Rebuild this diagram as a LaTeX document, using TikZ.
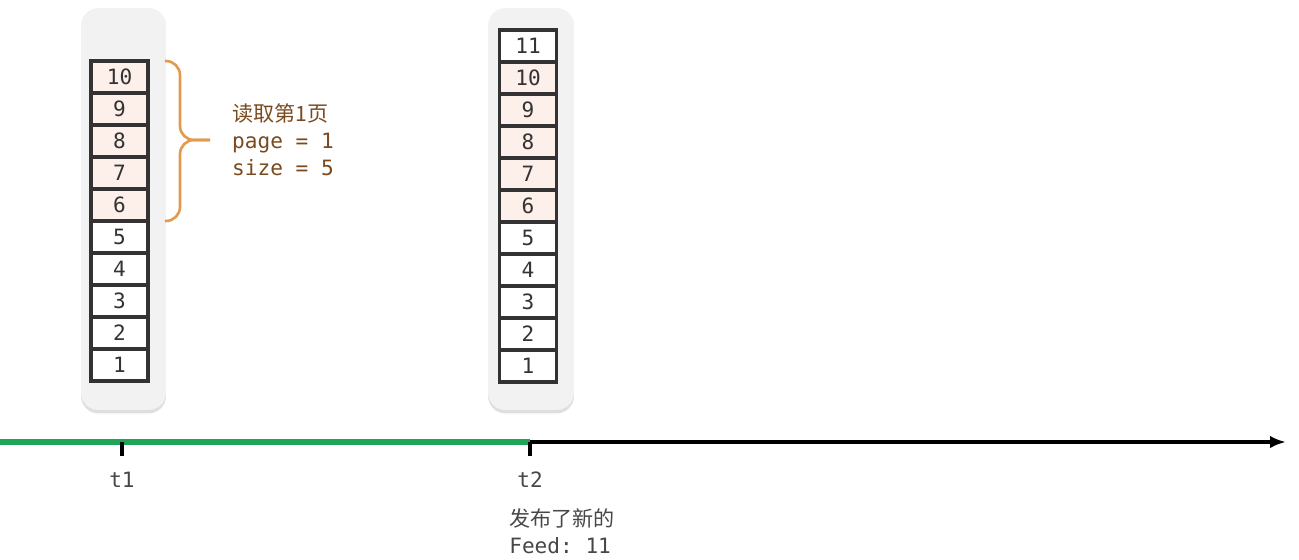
\documentclass[tikz,border=0pt]{standalone}
\usepackage{fontspec}
\setmonofont{DejaVu Sans Mono}
\newfontfamily\cjk{Noto Sans CJK SC}
\usepackage{xcolor}
\usetikzlibrary{arrows.meta, positioning, shadows, calc}
\definecolor{cellpink}{HTML}{FDF0EA}
\definecolor{braceorange}{HTML}{E39A4F}
\definecolor{notebrown}{HTML}{7A4A1E}
\definecolor{lanegray}{HTML}{F2F2F2}
\definecolor{timegreen}{HTML}{1BA555}
\definecolor{inkgray}{HTML}{333333}

\begin{document}
\begin{tikzpicture}[x=0.02cm, y=-0.02cm,
      lane/.style={fill=lanegray, rounded corners=10pt, minimum width=1.7cm, minimum height=8.04cm, inner sep=0pt,
        drop shadow={opacity=0.25, shadow xshift=0pt, shadow yshift=-2pt}},
      cell/.style={draw=inkgray, line width=2.2pt, minimum width=1.14cm, minimum height=0.64cm, inner sep=0pt,
        outer sep=0pt, font=\ttfamily\fontsize{12}{14}\selectfont, text=inkgray},
      tick/.style={line width=2pt},
      stamp/.style={font=\ttfamily\fontsize{12}{14}\selectfont, text=inkgray!90}
    ]
      \useasboundingbox (0,0) rectangle (1299,559);

      % the two snapshots of the feed box
      \node[lane] (laneA) at (123.5,209) {};
      \node[lane, minimum width=1.72cm] (laneB) at (531,209) {};

      \foreach \i in {1,...,10} {
        \ifnum\i>5 \def\cellfill{cellpink}\else\def\cellfill{white}\fi
        \node[cell, fill=\cellfill] (a\i) at (119.5,{365-(\i-1)*32}) {\i};
      }
      \foreach \i in {1,...,11} {
        \ifnum\i>5 \ifnum\i<11 \def\cellfill{cellpink}\else\def\cellfill{white}\fi\else\def\cellfill{white}\fi
        \node[cell, fill=\cellfill] (b\i) at (528,{366-(\i-1)*32}) {\i};
      }

      % brace over the first page
      \coordinate (tip) at (210,140);
      \draw[braceorange, line width=1.5pt, rounded corners=8pt]
        ($(a10.north east)+(17,0)$) -- ++(15,0) |- (tip);
      \draw[braceorange, line width=1.5pt, rounded corners=8pt]
        ($(a6.south east)+(17,0)$) -- ++(15,0) |- (tip);
      \node[anchor=west, align=left, text=notebrown, font=\ttfamily\fontsize{12}{15.3}\selectfont]
        (page) at (226,140) {{\cjk 读取第1页}\\page = 1\\size = 5};

      % timeline
      \coordinate (start) at (0,442);
      \coordinate (t1) at (122,442);
      \coordinate (t2) at (530,442);
      \coordinate (end) at (1286,442);
      \draw[timegreen, line width=3pt] (start) -- (t2);
      \draw[line width=2pt, -{Latex[length=9pt,width=7pt]}] (t2) -- (end);
      \draw[tick] (t1) -- ++(0,14);
      \draw[tick] (t2) -- ++(0,14);
      \node[stamp] (l1) at (122,480) {t1};
      \node[stamp] (l2) at (530,480) {t2};
      \node[stamp, anchor=north west, align=left, inner sep=0pt, font=\ttfamily\fontsize{12}{15.3}\selectfont]
        (feed) at (509,508) {{\cjk 发布了新的}\\Feed: 11};
    \end{tikzpicture}
\end{document}
